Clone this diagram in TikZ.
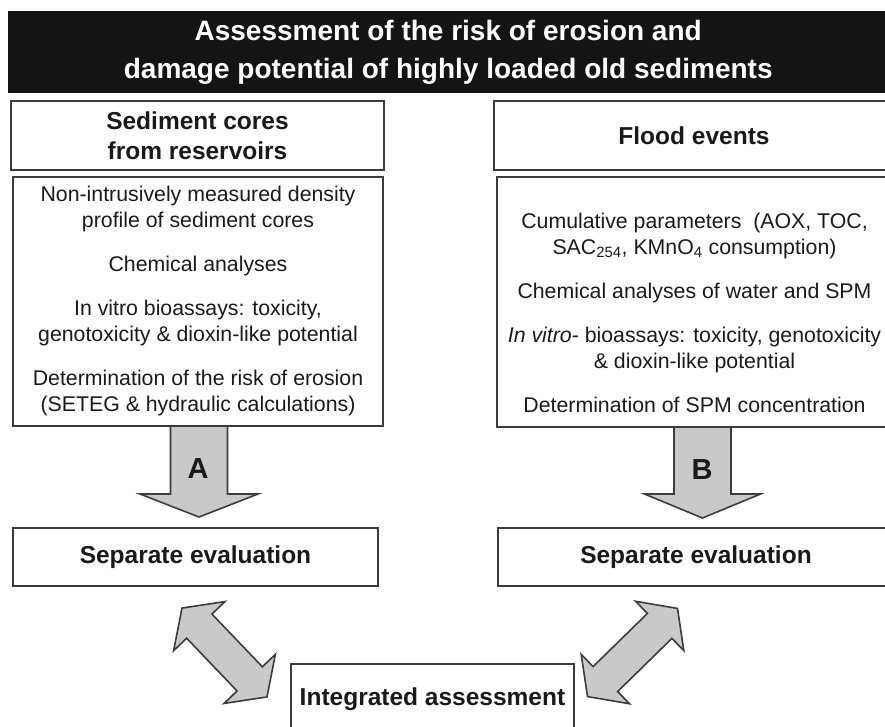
\documentclass[tikz,border=0pt]{standalone}
\usepackage{fontspec}
\setmainfont{Liberation Sans}
\usetikzlibrary{calc}
\definecolor{ink}{HTML}{1A1A1A}
\definecolor{edge}{HTML}{3C3C3C}
\definecolor{shade}{HTML}{C9C9C9}
\definecolor{bar}{HTML}{141414}
\tikzset{
  every node/.style={font=\fontsize{21.3}{26}\selectfont,text=ink},
  boxline/.style={draw=edge,line width=2pt},
  headbox/.style={boxline,fill=white,align=center,inner sep=0,anchor=north west,font=\bfseries\fontsize{24.5}{30}\selectfont},
  bodytext/.style={align=center,inner sep=0,anchor=north},
  titlebar/.style={fill=bar,text=white,align=center,inner sep=0,anchor=north west,font=\bfseries\fontsize{28}{38}\selectfont},
  blk/.style={draw=edge,line width=1.6pt,fill=shade,line join=miter},
  arrowtag/.style={font=\bfseries\fontsize{29}{34}\selectfont,inner sep=0}
}
\begin{document}
\begin{tikzpicture}[x=1pt,y=-1pt]
\path[use as bounding box] (0,0) rectangle (885,726);
% title
\node[titlebar,minimum width=880,minimum height=82] (title) at (8,11)
  {Assessment of the risk of erosion and\\damage potential of highly loaded old sediments};
% block arrows A and B (drawn first, frames go on top)
\begin{scope}[shift={(199,427)}]
\draw[blk] (-28.5,0) -- (-28.5,67) -- (-59,67) -- (0,90) -- (59,67) -- (28.5,67) -- (28.5,0);
\end{scope}
\begin{scope}[shift={(702.5,427)}]
\draw[blk] (-28.5,0) -- (-28.5,67) -- (-58,67) -- (0,91) -- (58,67) -- (28.5,67) -- (28.5,0);
\end{scope}
\node[arrowtag] (tagA) at (198,469) {A};
\node[arrowtag] (tagB) at (702,470) {B};
% sediment cores
\node[headbox,minimum width=373,minimum height=69] (lhead) at (10,100)
  {Sediment cores\\from reservoirs};
\draw[boxline] (12.5,177) rectangle (383,426);
\node[bodytext] (ltext) at (198,186.3)
  {Non-intrusively measured density\\profile of sediment cores\\[18pt]
   Chemical analyses\\[18pt]
   In vitro bioassays: toxicity,\\genotoxicity \& dioxin-like potential\\[18pt]
   Determination of the risk of erosion\\(SETEG \& hydraulic calculations)};
% flood events
\node[headbox,minimum width=400,minimum height=69] (rhead) at (493,100) {Flood events};
\draw[boxline] (497,177) rectangle (893,427);
\node[bodytext] (rtext) at (694.5,212.5)
  {Cumulative parameters\ \ (AOX, TOC,\\SAC\textsubscript{254}, KMnO\textsubscript{4} consumption)\\[18pt]
   Chemical analyses of water and SPM\\[18pt]
   \textit{In vitro}- bioassays: toxicity, genotoxicity\\\& dioxin-like potential\\[18pt]
   Determination of SPM concentration};
% evaluations
\node[headbox,minimum width=365,minimum height=58] (leval) at (12,527) {Separate evaluation};
\node[headbox,minimum width=396,minimum height=58] (reval) at (497,527) {Separate evaluation};
\node[headbox,minimum width=283,minimum height=70] (integ) at (290,663) {Integrated assessment};
% double arrows
\begin{scope}[shift={(224.5,652.5)},rotate=-46.3]
\draw[blk] (-61.5,0) -- (-36.5,35.5) -- (-36.5,17.5) -- (36.5,17.5) -- (36.5,35.5) -- (61.5,0)
  -- (36.5,-35.5) -- (36.5,-17.5) -- (-36.5,-17.5) -- (-36.5,-35.5) -- cycle;
\end{scope}
\begin{scope}[shift={(632.5,652.5)},rotate=44.4]
\draw[blk] (-63,0) -- (-38,34.5) -- (-38,17.5) -- (38,17.5) -- (38,34.5) -- (63,0)
  -- (38,-34.5) -- (38,-17.5) -- (-38,-17.5) -- (-38,-34.5) -- cycle;
\end{scope}
\end{tikzpicture}
\end{document}
